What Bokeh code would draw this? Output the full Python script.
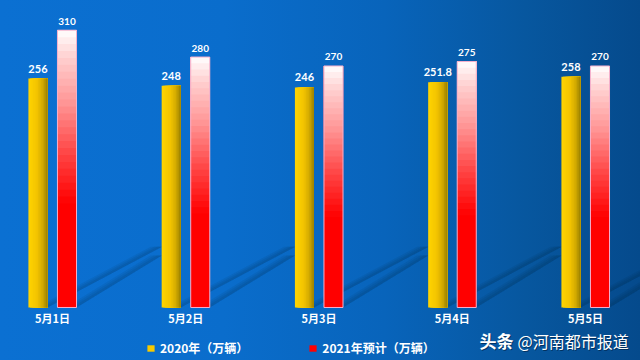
from bokeh.plotting import figure
from bokeh.models import (ColumnDataSource, Range1d, FixedTicker, Legend, LegendItem,
                          Label, GlobalInlineStyleSheet)
from bokeh.transform import dodge
from bokeh.core.properties import value
from bokeh.embed import file_html
from bokeh.resources import INLINE

# ---- data ----
dates = ["5月1日", "5月2日", "5月3日", "5月4日", "5月5日"]
v2020 = [256, 248, 246, 251.8, 258]
v2021 = [310, 280, 270, 275, 270]
lab2020 = ["256", "248", "246", "251.8", "258"]
lab2021 = ["310", "280", "270", "275", "270"]
series_names = ["2020年（万辆）", "2021年预计（万辆）"]
watermark = ["头条", "@河南都市报道"]

idx = list(range(len(dates)))

CJK = "Noto Sans CJK SC"
NUM = "Lato"

def hex2rgb(h):
    h = h.lstrip("#")
    return tuple(int(h[i:i + 2], 16) for i in (0, 2, 4))

def mix(c1, c2, t):
    a, b = hex2rgb(c1), hex2rgb(c2)
    return "#%02x%02x%02x" % tuple(round(a[i] + (b[i] - a[i]) * t) for i in range(3))

def ramp(stops, u):
    for (u0, c0), (u1, c1) in zip(stops, stops[1:]):
        if u <= u1:
            return mix(c0, c1, (u - u0) / (u1 - u0))
    return stops[-1][1]

# bar geometry (category units)
OFF = 0.109
W = 0.143
NY = 12          # horizontal slices of the gold bars
NR = 40          # vertical slices of the red bars
R0 = 15          # red slices below this index are plain red

data = dict(x=idx, v20=v2020, v21=v2021, l20=lab2020, l21=lab2021)
for k in range(R0, NR):
    data[f"b{k}"] = [v * k / NR for v in v2021]
src = ColumnDataSource(data)

p = figure(width=640, height=360, output_backend="svg", toolbar_location=None,
           x_range=Range1d(-0.390, 4.413), y_range=Range1d(-59.25, 343.2),
           min_border_left=0, min_border_right=0, min_border_top=0, min_border_bottom=0)
p.title.visible = False
p.background_fill_alpha = 0
p.border_fill_alpha = 0
p.outline_line_color = None
p.grid.visible = False
p.yaxis.visible = False

p.stylesheets = [GlobalInlineStyleSheet(css=(
    "html,body{height:100%;margin:0;}"
    "body{background:linear-gradient(to right,#0b70d2 0%,#0a6dcc 35%,#0864bb 60%,#07579f 82%,#054a8c 100%);}"
))]

# ---- soft diagonal shadows behind the bars (streak from each bar's foot) ----
sh_xs, sh_ys = [], []
for bw in (0.085, 0.06, 0.035):
    for i in idx:
        for o, sdx, sdy in ((-OFF, 0.86, 68.0), (OFF, 0.64, 58.0)):
            r = i + o + W / 2
            sh_xs.append([r - bw, r, r + sdx, r - bw + sdx])
            sh_ys.append([0, 0, sdy, sdy])
p.patches(xs=sh_xs, ys=sh_ys, fill_color="#001830", fill_alpha=0.07, line_color=None)

# ---- gold bars: horizontal gradient via overlapping slices ----
gold_stops = [(0.0, "#ffd400"), (0.45, "#f3c400"), (0.75, "#d2aa00"), (1.0, "#9a8000")]
left = -OFF - W / 2
right = -OFF + W / 2
gold_renderers = []
for j in range(NY):
    lj = left + W * j / NY
    c = (lj + right) / 2
    w = right - lj
    col = ramp(gold_stops, (j + 0.5) / NY)
    r = p.vbar(x=dodge("x", c, range=p.x_range), width=w, top="v20", bottom=0,
               source=src, fill_color=col, line_color=None)
    gold_renderers.append(r)

# ---- red bars: vertical gradient via overlapping slices ----
red_base = p.vbar(x=dodge("x", OFF, range=p.x_range), width=W, top="v21", bottom=0,
                  source=src, fill_color="#ff0000", line_color=None)
red_stops = [(0.0, "#ff0000"), (0.3, "#ff4848"), (0.6, "#ff9a9a"), (0.85, "#ffd2d2"), (1.0, "#ffffff")]
for k in range(R0, NR):
    f = (k + 0.5) / NR
    t = (f - R0 / NR) / (1 - R0 / NR)
    p.vbar(x=dodge("x", OFF, range=p.x_range), width=W, top="v21", bottom=f"b{k}",
           source=src, fill_color=ramp(red_stops, t), line_color=None)
p.vbar(x=dodge("x", OFF, range=p.x_range), width=W, top="v21", bottom=0,
       source=src, fill_color=None, line_color="#f4b0cc", line_width=1)

# ---- value labels ----
p.text(x=dodge("x", -OFF, range=p.x_range), y="v20", text="l20", source=src,
       text_align="center", text_baseline="middle", y_offset=-10,
       text_color="white", text_font=value(NUM), text_font_style="bold",
       text_font_size="11px")
p.text(x=dodge("x", OFF, range=p.x_range), y="v21", text="l21", source=src,
       text_align="center", text_baseline="middle", y_offset=-9,
       text_color="white", text_font=value(NUM), text_font_style="bold",
       text_font_size="10px")

# ---- x axis, pinned at y = 0 inside the frame ----
ax = p.xaxis[0]
ax.fixed_location = 0
ax.ticker = FixedTicker(ticks=idx)
ax.major_label_overrides = {i: d for i, d in zip(idx, dates)}
ax.axis_line_color = None
ax.major_tick_line_color = None
ax.minor_tick_line_color = None
ax.major_tick_in = 0
ax.major_tick_out = 0
ax.major_label_standoff = 3
ax.major_label_text_color = "white"
ax.major_label_text_font = CJK
ax.major_label_text_font_style = "bold"
ax.major_label_text_font_size = "11px"

# ---- legend ----
legend = Legend(items=[LegendItem(label=series_names[0], renderers=[gold_renderers[3]]),
                       LegendItem(label=series_names[1], renderers=[red_base])],
                location=(146, 4), orientation="horizontal",
                glyph_width=9, glyph_height=8, label_standoff=5, spacing=60,
                padding=0, margin=0, border_line_color=None, background_fill_alpha=0,
                label_text_color="white", label_text_font=CJK,
                label_text_font_style="bold", label_text_font_size="12px")
p.add_layout(legend, "center")

# ---- watermark ----
for dx, dy, colr, alpha in [(1, -1, "#001a3a", 0.6), (0, 0, "white", 1.0)]:
    p.add_layout(Label(x=479 + dx, y=20 + dy, x_units="screen", y_units="screen",
                       text=watermark[0], text_baseline="middle", text_color=colr,
                       text_alpha=alpha, text_font=CJK, text_font_style="bold",
                       text_font_size="17px"))
    p.add_layout(Label(x=517 + dx, y=20 + dy, x_units="screen", y_units="screen",
                       text=watermark[1], text_baseline="middle", text_color=colr,
                       text_alpha=alpha, text_font=CJK, text_font_size="16px"))

open("out.html", "w").write(file_html(p, INLINE))
